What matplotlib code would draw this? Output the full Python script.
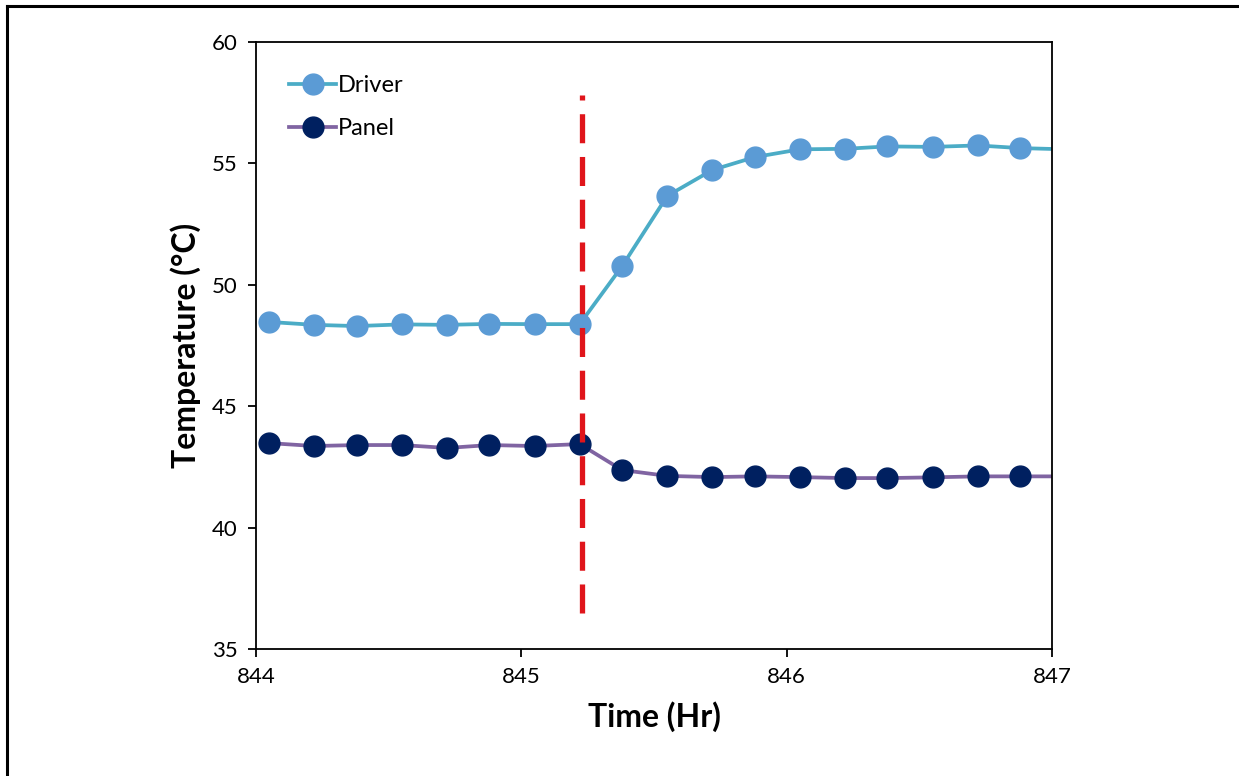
import matplotlib.pyplot as plt
from matplotlib.lines import Line2D

plt.rcParams['font.family'] = ['Lato', 'DejaVu Sans']

# time stamps (hr), 10-minute sampling
time = [844.05, 844.22, 844.38, 844.55, 844.72, 844.88, 845.05, 845.22,
        845.38, 845.55, 845.72, 845.88, 846.05, 846.22, 846.38, 846.55,
        846.72, 846.88, 847.05]
driver = [48.47, 48.35, 48.30, 48.37, 48.35, 48.39, 48.38, 48.38,
          50.77, 53.66, 54.73, 55.26, 55.58, 55.60, 55.70, 55.68,
          55.74, 55.63, 55.58]
panel = [43.48, 43.36, 43.40, 43.40, 43.28, 43.40, 43.36, 43.44,
         42.37, 42.13, 42.08, 42.11, 42.08, 42.04, 42.04, 42.07,
         42.11, 42.11, 42.11]
event_time = 845.23
event_span = [36.5, 57.8]

fig = plt.figure(figsize=(12.39, 7.76), dpi=100)
ax = fig.add_axes([256 / 1239, 1 - 649 / 776, (1052 - 256) / 1239, (649 - 42) / 776])

ax.plot(time, driver, color='#4BACC6', linewidth=2.7, marker='o', markersize=15,
        markerfacecolor='#5B9BD5', markeredgecolor='#5B9BD5', label='Driver')
ax.plot(time, panel, color='#8064A2', linewidth=2.7, marker='o', markersize=15,
        markerfacecolor='#002060', markeredgecolor='#002060', label='Panel')
ax.plot([event_time, event_time], event_span, color='#E0151B', linewidth=3.8,
        dashes=(5.5, 2.6))

ax.set_xlim(844, 847)
ax.set_ylim(35, 60)
ax.set_xticks([844, 845, 846, 847])
ax.set_yticks([35, 40, 45, 50, 55, 60])
ax.tick_params(axis='both', direction='out', length=6, width=1.3, labelsize=16,
               colors='black', pad=7)
for s in ax.spines.values():
    s.set_linewidth(1.3)

ax.set_xlabel('Time (Hr)', fontsize=23, fontweight='bold', labelpad=10)
ax.set_ylabel('Temperature (\u00b0C)', fontsize=23, fontweight='bold', labelpad=8)

ax.legend(loc='upper left', frameon=False, fontsize=17, handlelength=2.0,
          handletextpad=0.05, labelspacing=0.95, borderaxespad=1.0,
          bbox_to_anchor=(0.0, 1.0))

# outer frame
fig.add_artist(Line2D([7 / 1239, 7 / 1239], [0, 1 - 6 / 776], color='black', linewidth=2.2))
fig.add_artist(Line2D([7 / 1239, 1], [1 - 6 / 776, 1 - 6 / 776], color='black', linewidth=2.2))

fig.savefig('out.png', dpi=100)
